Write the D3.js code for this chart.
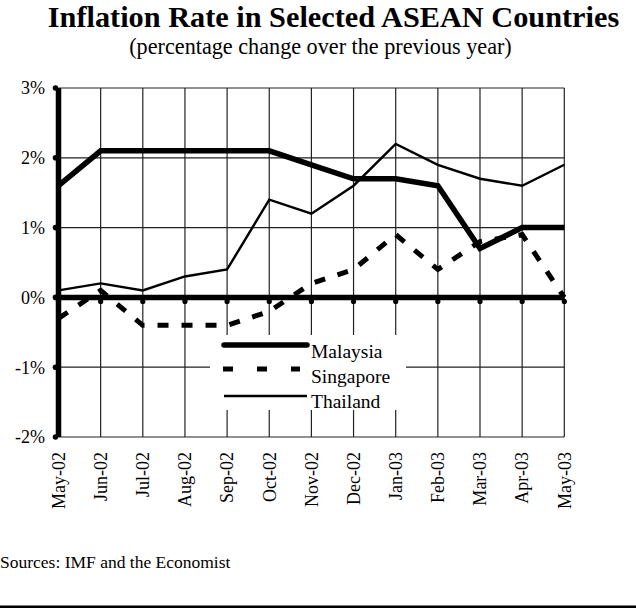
<!DOCTYPE html>
<html><head><meta charset="utf-8">
<script src="https://cdn.jsdelivr.net/npm/d3@7"></script>
<style>
body{margin:0;background:#fff;}
text{font-family:"Liberation Serif","Times New Roman",serif;fill:#000;}
</style></head>
<body>
<svg id="c" width="636" height="608"></svg>
<script>
const months = ["May-02","Jun-02","Jul-02","Aug-02","Sep-02","Oct-02","Nov-02","Dec-02","Jan-03","Feb-03","Mar-03","Apr-03","May-03"];
const malaysia = [1.6,2.1,2.1,2.1,2.1,2.1,1.9,1.7,1.7,1.6,0.7,1.0,1.0];
const singapore = [-0.3,0.1,-0.4,-0.4,-0.4,-0.2,0.2,0.4,0.9,0.4,0.8,0.9,0.0];
const thailand = [0.1,0.2,0.1,0.3,0.4,1.4,1.2,1.6,2.2,1.9,1.7,1.6,1.9];
const yTicks = [-2,-1,0,1,2,3];
const seriesNames = ["Malaysia","Singapore","Thailand"];

const svg = d3.select("#c");
const x = d3.scalePoint().domain(months).range([58.5,564.3]);
const y = d3.scaleLinear().domain([-2,3]).range([437,88]);

// titles
svg.append("text").attr("x",333.5).attr("y",27).attr("text-anchor","middle")
  .style("font-size","30.3px").style("font-weight","bold").text("Inflation Rate in Selected ASEAN Countries");
svg.append("text").attr("x",320.5).attr("y",53.5).attr("text-anchor","middle")
  .style("font-size","22.2px").text("(percentage change over the previous year)");

// gridlines
const g = svg.append("g");
g.selectAll("line.h").data(yTicks.filter(d=>d!==0)).join("line")
  .attr("x1",x(months[0])).attr("x2",x(months[months.length-1]))
  .attr("y1",d=>y(d)).attr("y2",d=>y(d)).attr("stroke","#222").attr("stroke-width",1.2);
g.selectAll("line.v").data(months.slice(1)).join("line")
  .attr("x1",d=>x(d)).attr("x2",d=>x(d)).attr("y1",y(3)).attr("y2",y(-2))
  .attr("stroke","#222").attr("stroke-width",1.2);

// y axis labels
svg.selectAll("text.yl").data(yTicks).join("text")
  .attr("x",45).attr("y",d=>y(d)).attr("dy","0.35em").attr("text-anchor","end")
  .style("font-size","18px").text(d=>d+"%");

// x labels
svg.selectAll("text.xl").data(months).join("text")
  .attr("transform",d=>`translate(${x(d)},452) rotate(-90)`)
  .attr("dy","0.35em").attr("text-anchor","end").style("font-size","18px").text(d=>d);

// lines
const line = arr => d3.line().x((d,i)=>x(months[i])).y(d=>y(d))(arr);
svg.append("path").attr("d",line(thailand)).attr("fill","none").attr("stroke","#000").attr("stroke-width",2.4);
svg.append("path").attr("d",line(singapore)).attr("fill","none").attr("stroke","#000").attr("stroke-width",5)
  .attr("stroke-dasharray","11,13");
svg.append("path").attr("d",line(malaysia)).attr("fill","none").attr("stroke","#000").attr("stroke-width",5.5);

// zero axis
svg.append("line").attr("x1",x(months[0])).attr("x2",x(months[months.length-1]))
  .attr("y1",y(0)).attr("y2",y(0)).attr("stroke","#000").attr("stroke-width",5.5);
svg.selectAll("circle.zt").data(months).join("circle")
  .attr("cx",d=>x(d)).attr("cy",y(0)+4).attr("r",2.6).attr("fill","#000");
// left axis
svg.append("line").attr("x1",x(months[0])).attr("x2",x(months[0]))
  .attr("y1",y(3)).attr("y2",y(-2)).attr("stroke","#000").attr("stroke-width",5.5);
svg.selectAll("circle.yt").data(yTicks).join("circle")
  .attr("cx",x(months[0])-3).attr("cy",d=>y(d)).attr("r",2.8).attr("fill","#000");

// legend
const lg = svg.append("g");
lg.append("rect").attr("x",210).attr("y",335).attr("width",196).attr("height",75).attr("fill","#fff");
const lys = [345,369,396];
const widths = [5.5,5,2.4];
const dashes = [null,"10,24",null];
seriesNames.forEach((n,i)=>{
  const l = lg.append("line").attr("x1",224).attr("x2",307).attr("y1",lys[i]).attr("y2",lys[i])
    .attr("stroke","#000").attr("stroke-width",widths[i]);
  if(dashes[i]) l.attr("stroke-dasharray",dashes[i]).attr("x1",223).attr("x2",300);
  if(i===0) l.attr("stroke-linecap","round");
  lg.append("text").attr("x",311).attr("y",[358,383,407.5][i]).style("font-size","19.5px").text(n);
});

// source
svg.append("text").attr("x",0).attr("y",568).style("font-size","17.5px").text("Sources: IMF and the Economist");
svg.append("line").attr("x1",0).attr("x2",636).attr("y1",607).attr("y2",607).attr("stroke","#000").attr("stroke-width",3);
</script>
</body></html>
